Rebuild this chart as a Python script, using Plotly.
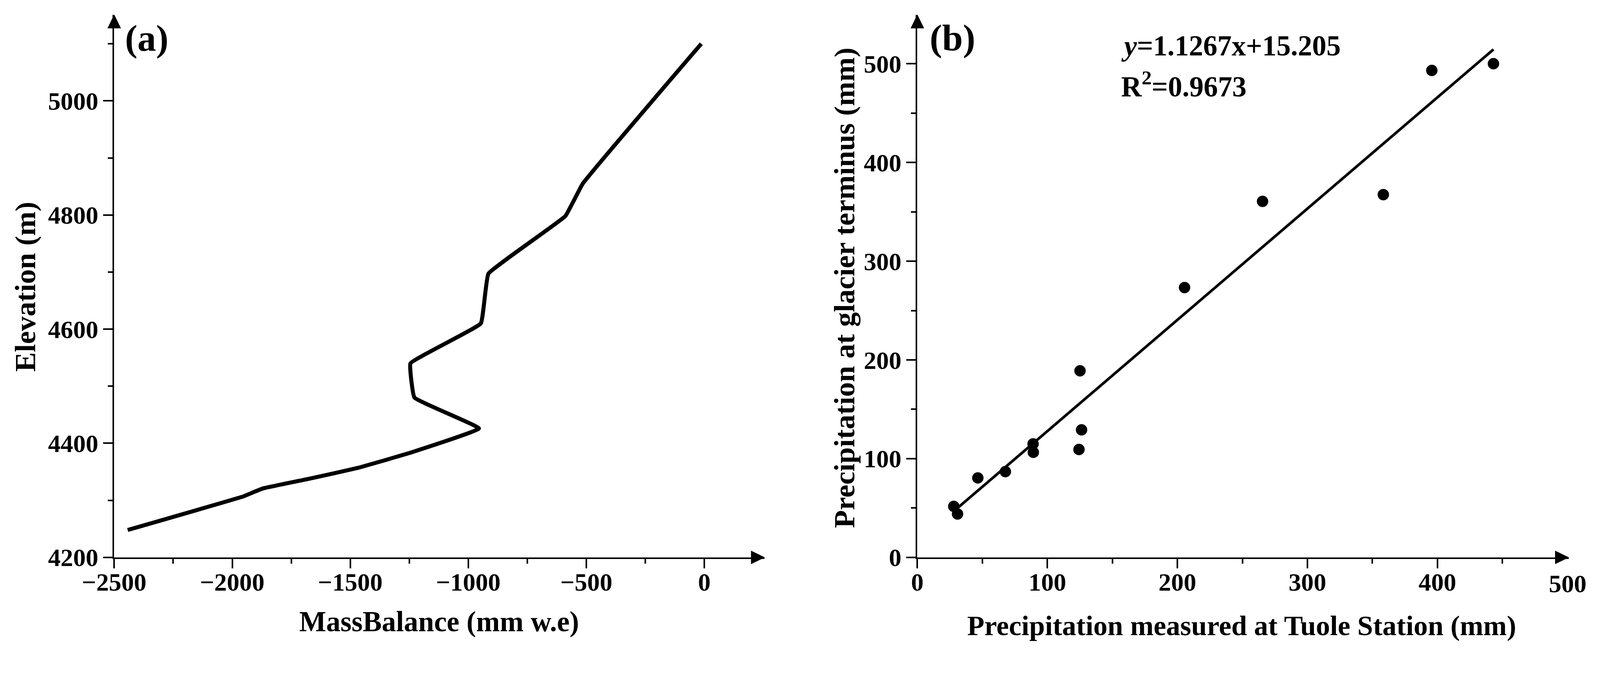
import plotly.graph_objects as go

W, H = 4205, 1724
# the page shows slightly enlarged and the body keeps its 8 px margin,
# so the positions below (screen pixels) are converted to page pixels
Z, OFF = 1.026, 8
WC, HC = round(W / Z - OFF), round(H / Z - OFF)
FONT = "Liberation Serif"

# panel (a): mass balance profile
mass_balance = [-2443, -1952, -1906, -1869, -1673, -1466, -1249, -955,
                -1228, -1245, -947, -915, -589, -515, -13]
elevation = [4248, 4307, 4315, 4321, 4338, 4357, 4383, 4426,
             4480, 4540, 4610, 4697, 4798, 4855, 5100]

# panel (b): precipitation comparison
tuole = [28.0, 30.9, 46.5, 67.7, 89, 89.2, 124.3, 126.3, 125.1, 205.5,
         265.5, 358.4, 395.7, 443.1]
terminus = [51.7, 44, 80.5, 86.9, 115, 106.4, 109.3, 129.2, 189,
            273.3, 360.6, 367.4, 493.2, 500]
slope, intercept = 1.1267, 15.205
fit_x = [min(tuole), max(tuole)]
fit_y = [slope * v + intercept for v in fit_x]

a_xticks = [-2500, -2000, -1500, -1000, -500, 0]
a_xminor = [-2250, -1750, -1250, -750, -250]
a_yticks = [4200, 4400, 4600, 4800, 5000]
a_yminor = [4300, 4500, 4700, 4900, 5100]
b_xticks = [0, 100, 200, 300, 400]
b_xminor = [50, 150, 250, 350, 450]
b_yticks = [0, 100, 200, 300, 400, 500]
b_yminor = [50, 150, 250, 350, 450]


def px(x):
    return (x / Z - OFF) / WC


def py(y):
    return 1 - (y / Z - OFF) / HC


def s(v):
    return v / Z


fig = go.Figure()
fig.add_trace(go.Scatter(x=mass_balance, y=elevation, mode="lines",
                         line=dict(color="black", width=s(10.5),
                                   shape="spline", smoothing=0.25),
                         xaxis="x", yaxis="y", showlegend=False))
fig.add_trace(go.Scatter(x=fit_x, y=fit_y, mode="lines",
                         line=dict(color="black", width=s(7)),
                         xaxis="x2", yaxis="y2", showlegend=False))
fig.add_trace(go.Scatter(x=tuole, y=terminus, mode="markers",
                         marker=dict(color="black", size=s(30)),
                         xaxis="x2", yaxis="y2", showlegend=False))

tickfont = dict(family=FONT, size=s(66), color="black", weight="bold")


def axis(domain, rng, ticks, minor, anchor, standoff=0):
    return dict(domain=domain, range=rng, anchor=anchor, automargin=False,
                tickmode="array", tickvals=ticks,
                ticks="outside", ticklen=round(s(25)), tickwidth=s(4),
                tickcolor="black",
                minor=dict(tickmode="array", tickvals=minor, ticks="outside",
                           ticklen=round(s(12)), tickwidth=s(4),
                           tickcolor="black"),
                showline=True, linewidth=s(4), linecolor="black",
                showgrid=False, zeroline=False, tickfont=tickfont,
                ticklabelstandoff=standoff)


ydom = [py(1465), py(39)]
fig.update_layout(
    width=WC, height=HC, autosize=False, showlegend=False,
    margin=dict(l=0, r=0, t=0, b=0, pad=0),
    paper_bgcolor="white", plot_bgcolor="white",
    xaxis=axis([px(300), px(2008)], [-2500, 254.8], a_xticks, a_xminor, "y",
               standoff=-20),
    yaxis=axis(ydom, [4200, 5150.7], a_yticks, a_yminor, "x"),
    xaxis2=axis([px(2409.5), px(4120)], [0, 500.9], b_xticks, b_xminor, "y2",
                standoff=-20),
    yaxis2=axis(ydom, [0, 549.5], b_yticks, b_yminor, "x2"),
)

# arrow heads at the axis ends
L, HW = 35, 17
arrows = [("up", 300, 39), ("right", 2008, 1465),
          ("up", 2409.5, 39), ("right", 4120, 1465)]
for kind, tx, ty in arrows:
    if kind == "up":
        pts = [(tx, ty), (tx - HW, ty + L), (tx + HW, ty + L)]
    else:
        pts = [(tx, ty), (tx - L, ty - HW), (tx - L, ty + HW)]
    path = "M " + " L ".join(f"{px(a):.5f},{py(b):.5f}" for a, b in pts) + " Z"
    fig.add_shape(type="path", path=path, xref="paper", yref="paper",
                  fillcolor="black", line=dict(color="black", width=1))


def label(text, x, y, size, angle=0, xanchor="center"):
    fig.add_annotation(text=text, x=px(x), y=py(y), xref="paper", yref="paper",
                       xanchor=xanchor, yanchor="middle", showarrow=False,
                       textangle=angle,
                       font=dict(family=FONT, size=s(size), color="black",
                                 weight="bold"))


label("MassBalance (mm w.e)", 1153, 1634, 75)
label("Elevation (m)", 67, 753, 77, angle=-90)
label("Precipitation measured at Tuole Station (mm)", 3261, 1645, 74)
label("Precipitation at glacier terminus (mm)", 2218, 756, 77, angle=-90)
label("(a)", 326, 101, 98, xanchor="left")
label("(b)", 2440, 100, 98, xanchor="left")
label("<i>y</i>=1.1267x+15.205", 2943, 121, 75, xanchor="left")
label("R<sup>2</sup>=0.9673", 2943, 222, 75, xanchor="left")
label("500", 4117, 1534, 66)

fig.write_html("out.html")
